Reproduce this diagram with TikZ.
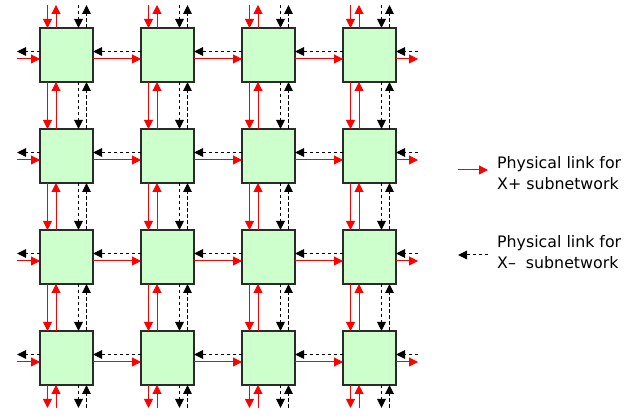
\documentclass[tikz,border=0pt]{standalone}
\usepackage{fontspec}
\setmainfont{DejaVu Sans}
\usetikzlibrary{arrows.meta}
\definecolor{boxfill}{HTML}{CCFFCC}
\definecolor{boxline}{HTML}{2A2A2A}
\begin{document}
\begin{tikzpicture}[x=1pt,y=-1pt,
  cell/.style={draw=boxline, line width=1.1pt, fill=boxfill, minimum width=53pt, minimum height=54pt, inner sep=0pt, outer sep=0pt, anchor=north west},
  rl/.style={draw=red, line width=1pt, -{Triangle[length=9pt,width=9pt]}},
  bl/.style={draw=black, line width=1pt, dash pattern=on 3.5pt off 2.5pt, -{Triangle[length=9pt,width=8.5pt]}},
  legtext/.style={anchor=west, align=left, font=\fontsize{15.8}{21}\selectfont, inner sep=0pt}
]
\useasboundingbox (0,0) rectangle (643,419);
\foreach \i in {1,...,4}{
  \foreach \j in {1,...,4}{
    \node[cell] (b-\i-\j) at ({40+101*(\j-1)}, {28+101*(\i-1)}) {};
  }
}
% vertical interior links
\foreach \i/\k in {1/2,2/3,3/4}{
  \foreach \j in {1,...,4}{
    \draw[rl] ([xshift=7.5pt]b-\i-\j.south west) -- ([xshift=7.5pt]b-\k-\j.north west);
    \draw[rl] ([xshift=16pt]b-\k-\j.north west) -- ([xshift=16pt]b-\i-\j.south west);
    \draw[bl] ([xshift=38.5pt]b-\i-\j.south west) -- ([xshift=38.5pt]b-\k-\j.north west);
    \draw[bl] ([xshift=46.5pt]b-\k-\j.north west) -- ([xshift=46.5pt]b-\i-\j.south west);
  }
}
% horizontal interior links
\foreach \j/\k in {1/2,2/3,3/4}{
  \foreach \i in {1,...,4}{
    \draw[rl] ([yshift=-31pt]b-\i-\j.north east) -- ([yshift=-31pt]b-\i-\k.north west);
    \draw[bl] ([yshift=-23.5pt]b-\i-\k.north west) -- ([yshift=-23.5pt]b-\i-\j.north east);
  }
}
% top and bottom edge links
\foreach \j in {1,...,4}{
  \draw[rl] ([xshift=7.5pt,yshift=23pt]b-1-\j.north west) -- ([xshift=7.5pt]b-1-\j.north west);
  \draw[rl] ([xshift=16pt]b-1-\j.north west) -- ([xshift=16pt,yshift=23pt]b-1-\j.north west);
  \draw[bl] ([xshift=38.5pt,yshift=23pt]b-1-\j.north west) -- ([xshift=38.5pt]b-1-\j.north west);
  \draw[bl] ([xshift=46.5pt]b-1-\j.north west) -- ([xshift=46.5pt,yshift=23pt]b-1-\j.north west);
  \draw[rl] ([xshift=7.5pt]b-4-\j.south west) -- ([xshift=7.5pt,yshift=-23pt]b-4-\j.south west);
  \draw[rl] ([xshift=16pt,yshift=-23pt]b-4-\j.south west) -- ([xshift=16pt]b-4-\j.south west);
  \draw[bl] ([xshift=38.5pt]b-4-\j.south west) -- ([xshift=38.5pt,yshift=-23pt]b-4-\j.south west);
  \draw[bl] ([xshift=46.5pt,yshift=-23pt]b-4-\j.south west) -- ([xshift=46.5pt]b-4-\j.south west);
}
% left and right edge links
\foreach \i in {1,...,4}{
  \draw[rl] ([xshift=-23pt,yshift=-31pt]b-\i-1.north west) -- ([yshift=-31pt]b-\i-1.north west);
  \draw[bl] ([yshift=-23.5pt]b-\i-1.north west) -- ([xshift=-23pt,yshift=-23.5pt]b-\i-1.north west);
  \draw[rl] ([yshift=-31pt]b-\i-4.north east) -- ([xshift=22pt,yshift=-31pt]b-\i-4.north east);
  \draw[bl] ([xshift=22pt,yshift=-23.5pt]b-\i-4.north east) -- ([yshift=-23.5pt]b-\i-4.north east);
}
% legend
\coordinate (lr1) at (458,170);
\coordinate (lr2) at (488,170);
\draw[rl] (lr1) -- (lr2);
\node[legtext] (tr) at (497,173) {Physical link for\\X+ subnetwork};
\coordinate (lb1) at (488,255);
\coordinate (lb2) at (458,255);
\draw[bl] (lb1) -- (lb2);
\node[legtext] (tb) at (497,252) {Physical link for\\X\textendash\ \ subnetwork};
\end{tikzpicture}
\end{document}
